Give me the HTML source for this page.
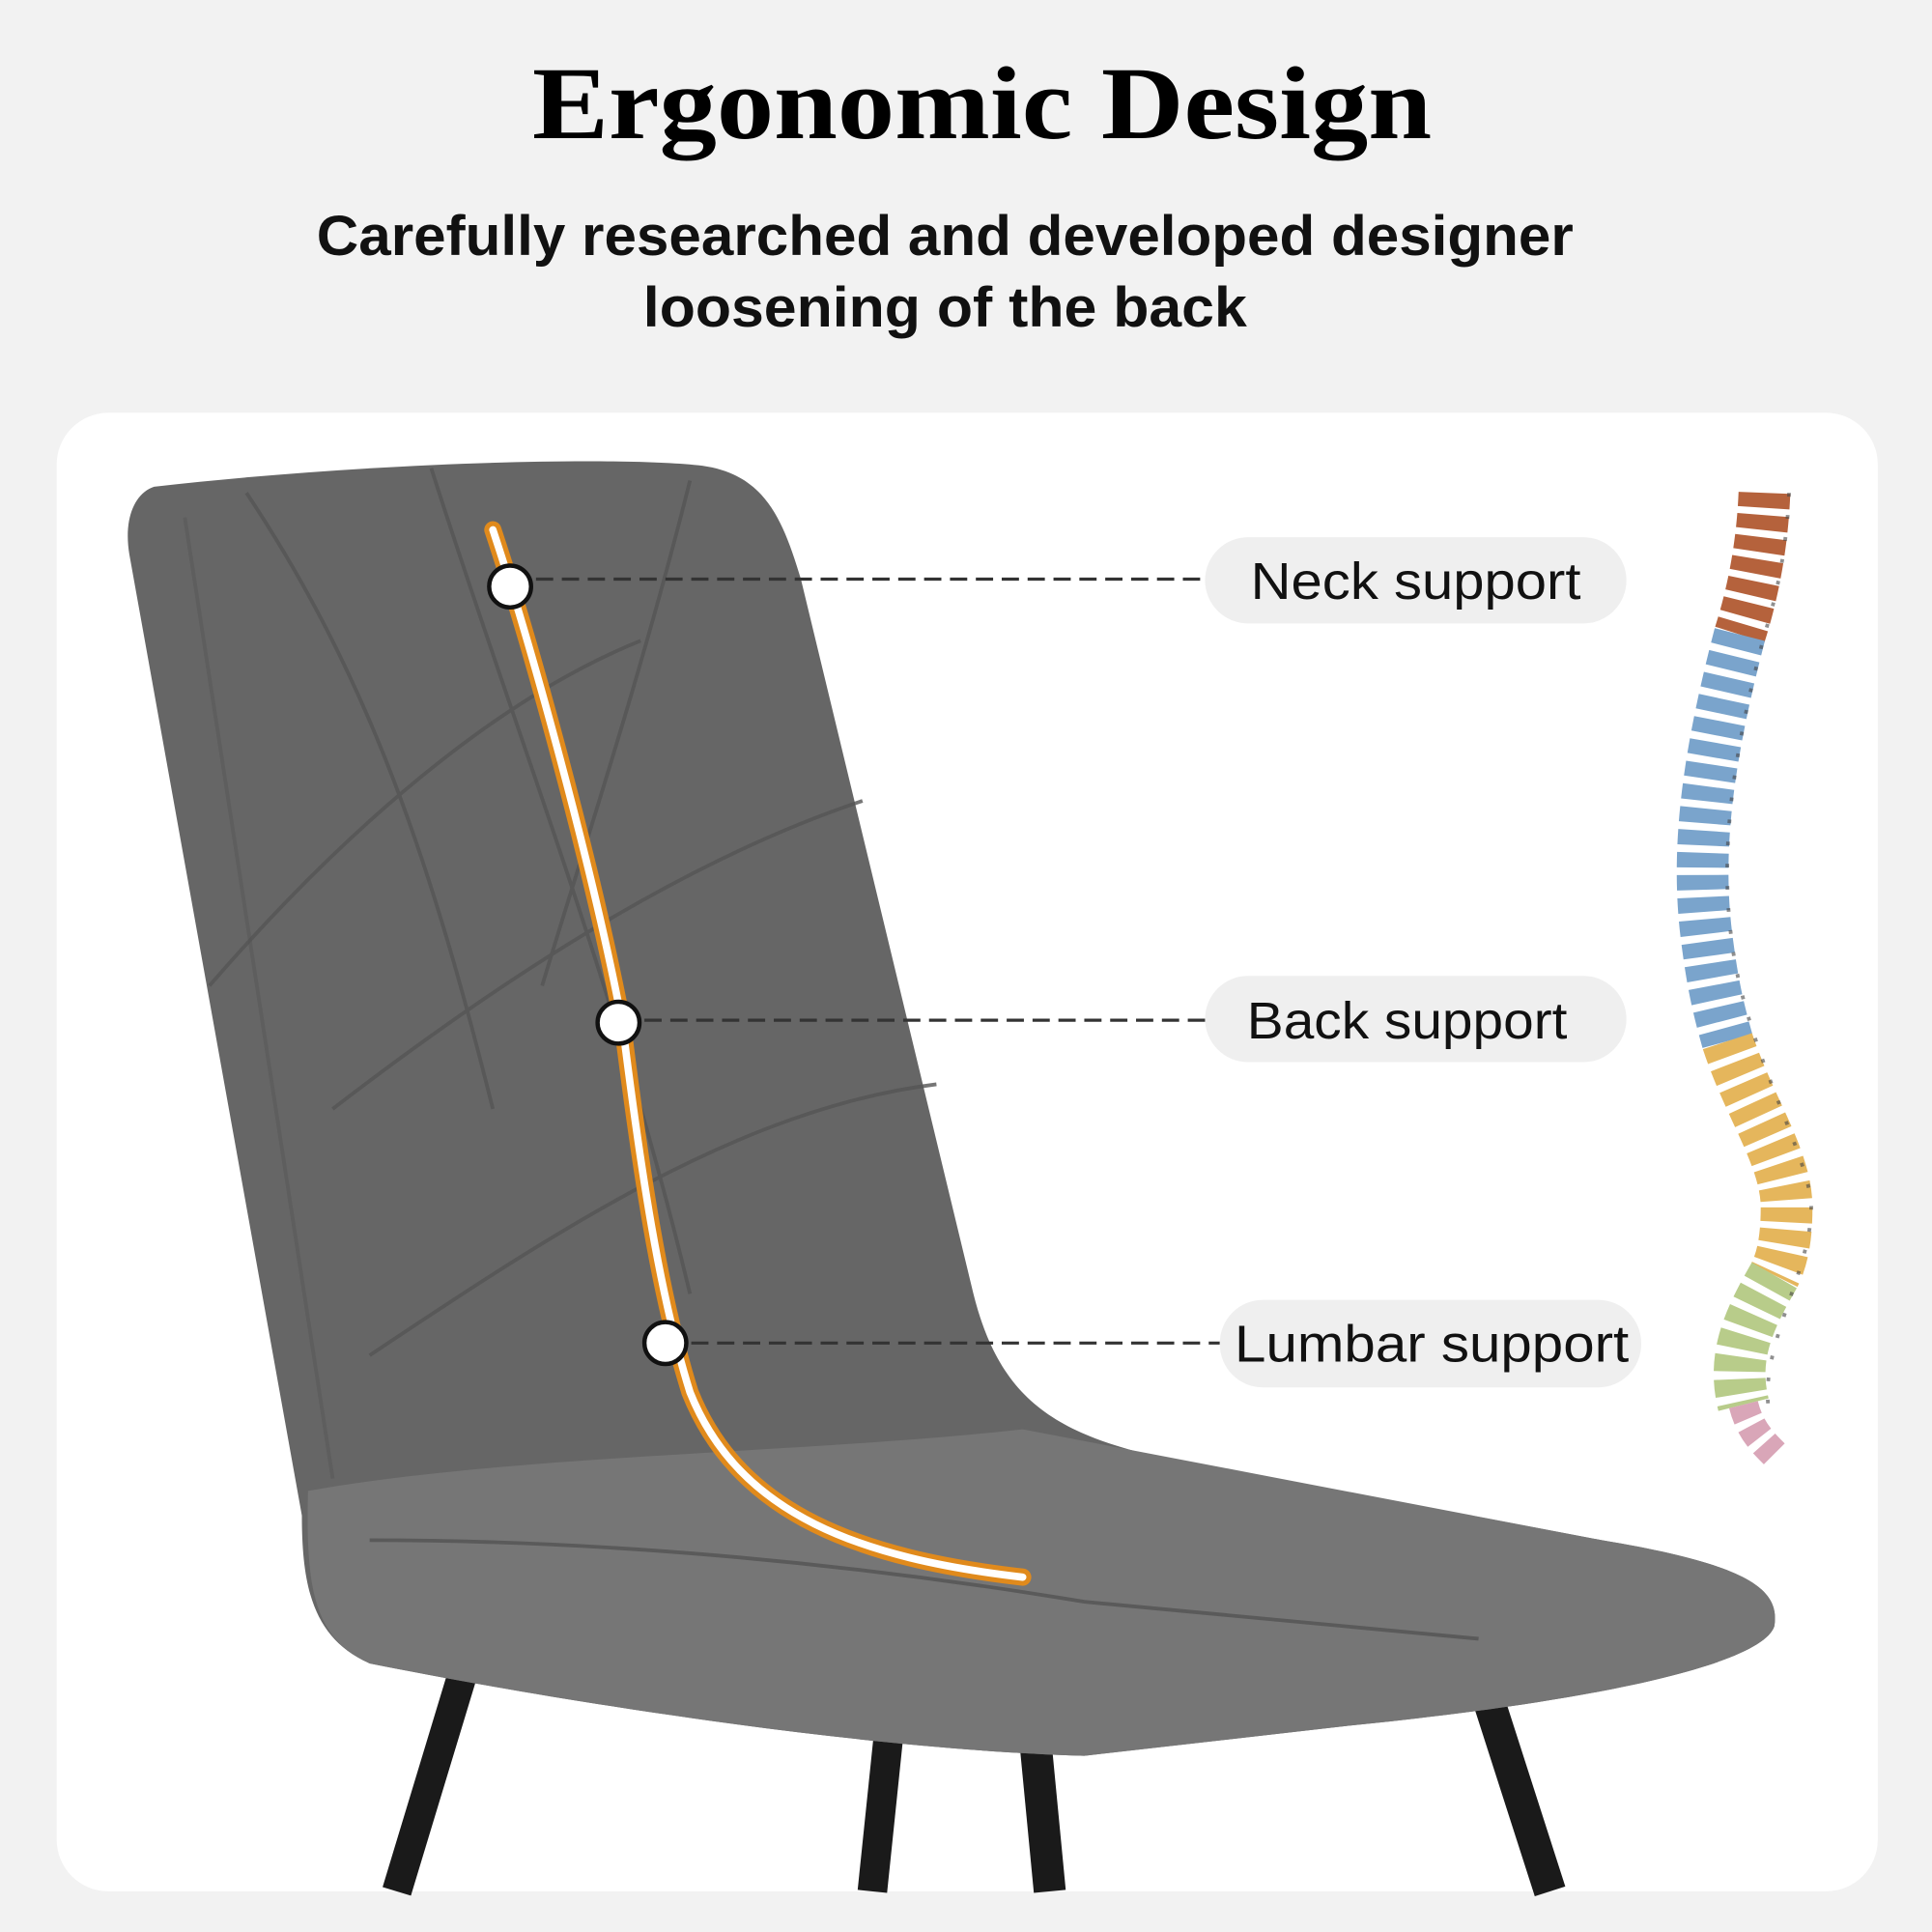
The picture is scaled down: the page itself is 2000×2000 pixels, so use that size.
<!DOCTYPE html>
<html><head><meta charset="utf-8"><style>
html,body{margin:0;padding:0;background:#f2f2f2;}
svg{display:block;}
</style></head><body>
<svg width="2000" height="2000" viewBox="0 0 1568 1568" xmlns="http://www.w3.org/2000/svg">
<rect width="1568" height="1568" fill="#f2f2f2"/>
<text x="797" y="112" text-anchor="middle" font-family="Liberation Serif, serif" font-weight="bold" font-size="84" textLength="730" lengthAdjust="spacingAndGlyphs" fill="#000">Ergonomic Design</text>
<text x="767" y="207" text-anchor="middle" font-family="Liberation Sans, sans-serif" font-weight="bold" font-size="46" textLength="1020" lengthAdjust="spacingAndGlyphs" fill="#111">Carefully researched and developed designer</text>
<text x="767" y="265" text-anchor="middle" font-family="Liberation Sans, sans-serif" font-weight="bold" font-size="46" textLength="490" lengthAdjust="spacingAndGlyphs" fill="#111">loosening of the back</text>
<rect x="46" y="335" width="1478" height="1200" rx="42" fill="#ffffff"/>
<!-- legs -->
<g stroke="#1a1a1a" stroke-linecap="butt">
<line x1="375" y1="1360" x2="322" y2="1535" stroke-width="24"/>
<line x1="722" y1="1400" x2="708" y2="1535" stroke-width="24"/>
<line x1="840" y1="1410" x2="852" y2="1535" stroke-width="26"/>
<line x1="1205" y1="1370" x2="1258" y2="1535" stroke-width="26"/>
</g>
<!-- chair -->
<path d="M125,395 C300,375 500,370 570,378 C620,385 635,420 650,470 L790,1050 C810,1130 850,1160 930,1180 L1300,1250 C1420,1270 1445,1290 1440,1320 C1430,1350 1300,1380 1100,1400 L880,1425 C700,1420 450,1380 300,1350 C255,1330 245,1290 245,1230 L105,450 C100,420 110,400 125,395 Z" fill="#666"/>
<path d="M250,1210 C420,1180 650,1180 830,1160 L1300,1250 C1420,1270 1445,1290 1440,1320 C1430,1350 1300,1380 1100,1400 L880,1425 C700,1420 450,1380 300,1350 C255,1330 248,1290 250,1210Z" fill="#767676"/>
<path d="M300,1250 C500,1250 700,1270 880,1300 L1200,1330" stroke="#5a5a5a" stroke-width="3" fill="none"/>
<path d="M150,420 L270,1200" stroke="#5e5e5e" stroke-width="3" fill="none"/>
<g stroke="#555" stroke-width="3" fill="none" opacity="0.8">
<path d="M200,400 C300,550 350,700 400,900"/>
<path d="M350,380 C420,600 500,800 560,1050"/>
<path d="M560,390 C520,550 470,700 440,800"/>
<path d="M170,800 C300,650 420,560 520,520"/>
<path d="M270,900 C400,800 550,700 700,650"/>
<path d="M300,1100 C450,1000 600,900 760,880"/>
</g>
<!-- curve -->
<path d="M400,430 C430,520 480,700 505,830 C520,950 535,1050 560,1130 C600,1230 700,1265 830,1280" stroke="#e08a1c" stroke-width="14" fill="none" stroke-linecap="round"/>
<path d="M400,430 C430,520 480,700 505,830 C520,950 535,1050 560,1130 C600,1230 700,1265 830,1280" stroke="#fff" stroke-width="6" fill="none" stroke-linecap="round"/>
<!-- dashed lines -->
<g stroke="#333" stroke-width="2.5" stroke-dasharray="14 7">
<line x1="414" y1="470" x2="975" y2="470"/>
<line x1="502" y1="828" x2="978" y2="828"/>
<line x1="540" y1="1090" x2="990" y2="1090"/>
</g>
<g fill="#fff" stroke="#111" stroke-width="3.5">
<circle cx="414" cy="476" r="17"/>
<circle cx="502" cy="830" r="17"/>
<circle cx="540" cy="1090" r="17"/>
</g>
<g fill="#efefef">
<rect x="978" y="436" width="342" height="70" rx="35"/>
<rect x="978" y="792" width="342" height="70" rx="35"/>
<rect x="990" y="1055" width="342" height="71" rx="35"/>
</g>
<g font-family="Liberation Sans, sans-serif" font-size="42" fill="#111">
<text x="1015" y="486" textLength="268" lengthAdjust="spacingAndGlyphs">Neck support</text>
<text x="1012" y="843" textLength="260" lengthAdjust="spacingAndGlyphs">Back support</text>
<text x="1002" y="1105" textLength="320" lengthAdjust="spacingAndGlyphs">Lumbar support</text>
</g>
<!-- spine -->
<g fill="none" stroke-width="42" stroke-dasharray="12 6">
<path d="M1432,400 C1430,450 1420,490 1412,515" stroke="#b5623c"/>
<path d="M1412,515 C1390,600 1375,680 1385,760 C1390,800 1395,820 1402,845" stroke="#7aa4cc"/>
<path d="M1402,845 C1420,900 1450,940 1450,980 C1450,1010 1445,1025 1440,1035" stroke="#e5b65c"/>
<path d="M1440,1035 C1420,1070 1405,1100 1415,1140" stroke="#b8cc8a"/>
<path d="M1415,1140 C1420,1160 1430,1170 1440,1180" stroke="#d9a6b8" stroke-width="24"/>
</g>
<g fill="none" stroke="#444" stroke-width="3" stroke-dasharray="3 15" opacity="0.6">
<path d="M1452,400 C1450,450 1440,490 1432,515 C1410,600 1395,680 1405,760 C1415,850 1470,940 1470,980 C1470,1030 1430,1090 1435,1140"/>
</g>
</svg>
</body></html>
